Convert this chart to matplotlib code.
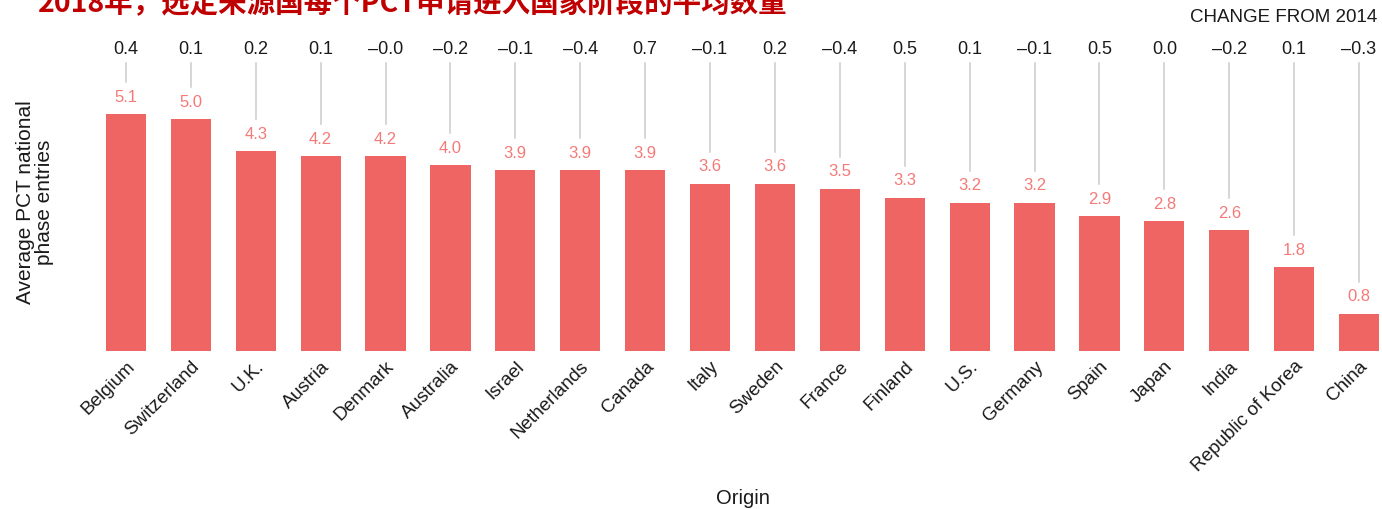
import matplotlib
matplotlib.use('Agg')
import numpy as np
import matplotlib.pyplot as plt

plt.rcParams['font.family'] = ['Liberation Sans', 'DejaVu Sans']

countries = ['Belgium', 'Switzerland', 'U.K.', 'Austria', 'Denmark', 'Australia',
             'Israel', 'Netherlands', 'Canada', 'Italy', 'Sweden', 'France',
             'Finland', 'U.S.', 'Germany', 'Spain', 'Japan', 'India',
             'Republic of Korea', 'China']
entries = [5.1, 5.0, 4.3, 4.2, 4.2, 4.0, 3.9, 3.9, 3.9, 3.6, 3.6, 3.5,
           3.3, 3.2, 3.2, 2.9, 2.8, 2.6, 1.8, 0.8]
change = ['0.4', '0.1', '0.2', '0.1', '\u20130.0', '\u20130.2', '\u20130.1', '\u20130.4',
          '0.7', '\u20130.1', '0.2', '\u20130.4', '0.5', '0.1', '\u20130.1', '0.5',
          '0.0', '\u20130.2', '0.1', '\u20130.3']

W, H = 1382, 509
PX = 46.4          # pixels per unit on the y axis
BASE = 351         # baseline pixel row
STEP = 64.9        # pixels between bars
LEFT = 93.5

fig = plt.figure(figsize=(W / 100, H / 100), dpi=100)
ax = fig.add_axes([LEFT / W, (H - BASE) / H, (W - LEFT) / W, BASE / H])
ax.set_xlim(-0.5, -0.5 + (W - LEFT) / STEP)
ax.set_ylim(0, BASE / PX)

x = np.arange(len(countries))
ax.bar(x, entries, width=0.62, color='#ee6563', zorder=2)

for xi, v, c in zip(x, entries, change):
    ax.text(xi, v + 17 / PX, '{:.1f}'.format(v), ha='center', va='center',
            fontsize=12, color='#f47a78')
    ax.plot([xi, xi], [v + 32 / PX, (BASE - 63) / PX], color='#cccccc', lw=1.1,
            clip_on=False, zorder=1)
    ax.text(xi, (BASE - 49) / PX, c, ha='center', va='center', fontsize=13,
            color='#1a1a1a', clip_on=False)

ax.set_xticks(x)
ax.set_xticklabels(countries, rotation=45, ha='right', va='top',
                   rotation_mode='anchor', fontsize=13.6, color='#1a1a1a')
ax.tick_params(axis='x', length=0, pad=5)
ax.set_yticks([])
for s in ax.spines.values():
    s.set_visible(False)

fig.text(35 / W, 1 - 202 / H, 'Average PCT national\nphase entries', rotation=90,
         ha='center', va='center', fontsize=15, color='#1a1a1a', linespacing=1.0)
fig.text(743 / W, 1 - 498 / H, 'Origin', ha='center', va='center', fontsize=14.5,
         color='#1a1a1a')
fig.text(1377 / W, 1 - 18 / H, 'CHANGE FROM 2014', ha='right', va='center',
         fontsize=13.5, color='#1a1a1a')
fig.text(38 / W, 1 - 12 / H, '2018年，选定来源国每个PCT申请进入国家阶段的平均数量',
         ha='left', va='baseline', fontsize=20.5, fontweight='bold', color='#c00000',
         family=['Noto Sans CJK SC', 'DejaVu Sans'])

fig.savefig('out.png', dpi=100)
